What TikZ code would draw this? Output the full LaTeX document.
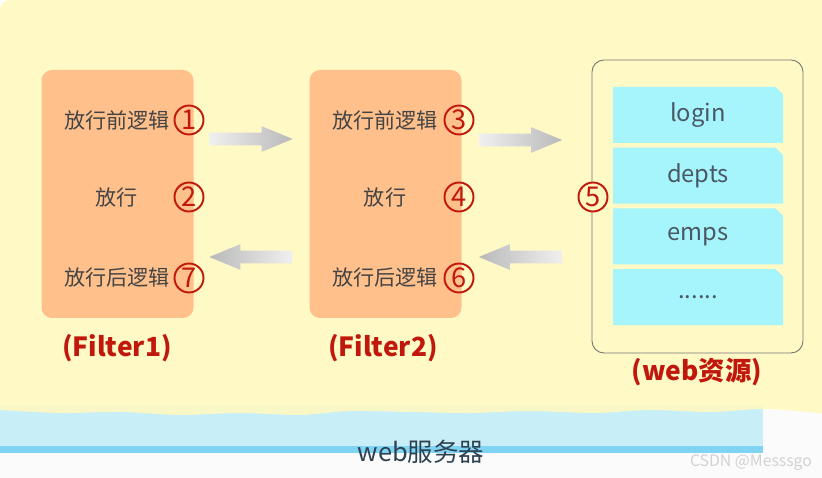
\documentclass[tikz,border=0pt]{standalone}
\usepackage{fontspec}
\setmainfont{Noto Sans CJK SC}
\usetikzlibrary{positioning,shapes.misc,shapes.arrows}
\definecolor{bgyellow}{HTML}{FFF8C0}
\definecolor{peach}{HTML}{FFC08C}
\definecolor{cyanbox}{HTML}{A6F4FC}
\definecolor{numred}{HTML}{C0180C}
\definecolor{txtgray}{HTML}{444444}
\definecolor{restxt}{HTML}{4A5864}
\definecolor{bandblue}{HTML}{C8EEF8}
\definecolor{stripblue}{HTML}{7FD4F4}
\definecolor{titleblue}{HTML}{2E4150}
\begin{document}
\begin{tikzpicture}[line join=round, line cap=round,
	filterbox/.style={rectangle, fill=peach, rounded corners=6pt, minimum width=3.04cm, minimum height=4.96cm},
	stage/.style={text=txtgray, font=\fontsize{12}{14}\selectfont},
	num/.style={circle, draw=numred, line width=1.1pt, text=numred, minimum size=0.58cm, inner sep=0pt, font=\fontsize{15.5}{16}\selectfont},
	tag/.style={text=numred, font=\fontsize{15}{18}\selectfont\bfseries},
	res/.style={chamfered rectangle, chamfered rectangle corners=north east, chamfered rectangle xsep=0.08cm, chamfered rectangle ysep=0.07cm, fill=cyanbox, minimum width=3.4cm, minimum height=1.12cm, text=restxt, font=\fontsize{13.5}{15}\selectfont},
	fwd/.style={single arrow, single arrow tip angle=45, single arrow head extend=0.13cm, minimum height=1.66cm, inner sep=0.12cm, left color=gray!12, right color=gray!55},
	bwd/.style={fwd, shape border rotate=180, left color=gray!55, right color=gray!12}]
	\useasboundingbox (0,0) rectangle (16.44,-9.56);
	\fill[white!97!gray] (0,-8.2) rectangle (16.44,-9.56);
	\fill[bandblue] (0,-8.1) rectangle (15.26,-8.92);
	\fill[stripblue] (0,-8.92) rectangle (15.26,-9.06);
	\fill[bgyellow, opacity=0.9] (0,-8.2) -- (0,-0.2) arc (180:90:0.2) -- (16.44,0) -- (16.44,-8.27)
		-- plot[smooth] coordinates {(16.44,-8.27) (15.3,-8.18) (14.2,-8.24) (13.0,-8.2) (11.9,-8.26) (10.6,-8.22) (9.4,-8.26) (8.2,-8.24) (7.0,-8.22) (6.0,-8.3) (4.8,-8.26) (3.6,-8.3) (2.4,-8.24) (1.2,-8.26) (0,-8.2)} -- cycle;
	\node[filterbox] (f1) at (2.35,-3.88) {};
	\node[filterbox] (f2) at (7.71,-3.88) {};
	\node[stage] (f1pre) at (2.34,-2.40) {放行前逻辑};
	\node[stage] (f1pass) at (2.34,-3.94) {放行};
	\node[stage] (f1post) at (2.34,-5.56) {放行后逻辑};
	\node[stage] (f2pre) at (7.70,-2.40) {放行前逻辑};
	\node[stage] (f2pass) at (7.70,-3.94) {放行};
	\node[stage] (f2post) at (7.70,-5.56) {放行后逻辑};
	\node[num] (n1) at (3.78,-2.40) {1};
	\node[num] (n2) at (3.78,-3.94) {2};
	\node[num] (n7) at (3.78,-5.56) {7};
	\node[num] (n3) at (9.18,-2.40) {3};
	\node[num] (n4) at (9.18,-3.94) {4};
	\node[num] (n6) at (9.18,-5.56) {6};
	\node[tag] (t1) at (2.34,-6.96) {(Filter1)};
	\node[tag] (t2) at (7.66,-6.96) {(Filter2)};
	\node[draw=gray!90!black, line width=0.5pt, rounded corners=0.24cm, minimum width=4.22cm, minimum height=5.86cm] (web) at (13.95,-4.13) {};
	\node[res] (r1) at (13.96,-2.30) {login};
	\node[res, below=0.08cm of r1] (r2) {depts};
	\node[res, below=0.08cm of r2] (r3) {emps};
	\node[res, below=0.08cm of r3] (r4) {......};
	\node[num, fill=bgyellow] (n5) at (11.86,-3.94) {5};
	\node[tag] (t3) at (13.94,-7.44) {(web资源)};
	\node[fwd] (a1) at (4.87,-2.78) {};
	\node[fwd] (a2) at (10.26,-2.80) {};
	\node[bwd] (a3) at (5.17,-5.14) {};
	\node[bwd] (a4) at (10.56,-5.14) {};
	\node[text=titleblue, font=\fontsize{14.5}{16}\selectfont] (srv) at (8.42,-9.04) {web服务器};
	\node[text=gray!35, font=\fontsize{9}{10}\selectfont] (mark) at (15.02,-9.26) {CSDN @Messsgo};
\end{tikzpicture}
\end{document}
